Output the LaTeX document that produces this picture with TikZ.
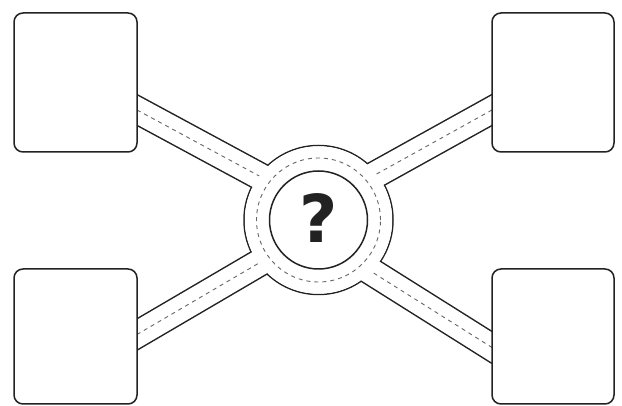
\documentclass[tikz,border=0pt]{standalone}
\usepackage{fontspec}
\newfontfamily\qfont{DejaVu Sans}
\definecolor{ink}{HTML}{222222}
\definecolor{lanegray}{HTML}{666666}
\begin{document}
\begin{tikzpicture}[x=1pt,y=-1pt,
  edge/.style={line width=1.5pt, draw=ink},
  road/.style={line width=1.5pt, draw=ink, double=white, double distance=25.5pt},
  lane/.style={line width=0.9pt, draw=lanegray, dash pattern=on 4pt off 4pt},
  box/.style={edge, fill=white, rounded corners=9pt, inner sep=0pt}]
\useasboundingbox (0,0) rectangle (622,406);
\coordinate (C) at (318.5,220);
% outer ring
\draw[edge] (C) circle[radius=74.5pt];
% roads
\coordinate (tlA) at (130,106.2);
\coordinate (tlB) at (300,198);
\coordinate (trA) at (499,106.1);
\coordinate (trB) at (337,196);
\coordinate (blA) at (130,338.6);
\coordinate (blB) at (300,239);
\coordinate (brA) at (499,351.9);
\coordinate (brB) at (337,250);
\foreach \a/\b in {tlA/tlB,trA/trB,blA/blB,brA/brB}{
  \draw[road] (\a) -- (\b);
  \draw[lane] (\a) -- (\b);
}
% clear inside of roundabout
\fill[white] (C) circle[radius=73.75pt];
\draw[lane] (C) circle[radius=62pt];
\draw[edge] (C) circle[radius=49pt];
\node[font=\qfont\bfseries\fontsize{66}{66}\selectfont, text=ink, anchor=base, inner sep=0pt] (q) at (318.5,243) {?};
% boxes
\node[box, minimum width=123pt, minimum height=139pt] (tl) at (75.5,82.5) {};
\node[box, minimum width=122pt, minimum height=139pt] (tr) at (553,82.5) {};
\node[box, minimum width=123pt, minimum height=135pt] (bl) at (75.5,336.5) {};
\node[box, minimum width=122pt, minimum height=135pt] (br) at (553,336.5) {};
\end{tikzpicture}
\end{document}
